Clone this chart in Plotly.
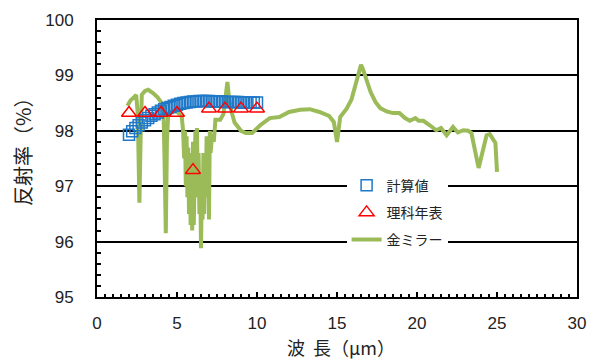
import plotly.graph_objects as go

# 計算値 (calculated)
calc_x = [2.0, 2.2, 2.4, 2.6, 2.8, 3.0, 3.2, 3.4, 3.6, 3.8, 4.0, 4.2, 4.4, 4.6, 4.8,
          5.0, 5.2, 5.4, 5.6, 5.8, 6.0, 6.2, 6.4, 6.6, 6.8, 7.0, 7.2, 7.4, 7.6, 7.8,
          8.0, 8.2, 8.4, 8.6, 8.8, 9.0, 9.2, 9.4, 9.6, 9.8, 10.0]
calc_y = [97.93, 97.99, 98.05, 98.10, 98.15, 98.19, 98.23, 98.27, 98.30, 98.33, 98.36,
          98.39, 98.41, 98.43, 98.45, 98.47, 98.49, 98.50, 98.51, 98.52, 98.53, 98.53,
          98.54, 98.54, 98.54, 98.54, 98.53, 98.53, 98.53, 98.53, 98.52, 98.52, 98.52,
          98.52, 98.52, 98.51, 98.51, 98.51, 98.51, 98.51, 98.51]

# 理科年表 (table values)
table_x = [2, 3, 4, 5, 6, 7, 8, 9, 10]
table_y = [98.32, 98.32, 98.32, 98.32, 97.29, 98.40, 98.40, 98.40, 98.40]

# 金ミラー (gold mirror measurement)
gold_x = [1.9, 2.1, 2.3, 2.45, 2.55, 2.65, 2.72, 2.8, 3.0, 3.2, 3.5, 3.8, 4.0, 4.15,
          4.22, 4.3, 4.37, 4.45, 4.7, 5.0, 5.3, 5.38, 5.45, 5.5, 5.55, 5.6, 5.65,
          5.7, 5.75, 5.8, 5.85, 5.9, 5.95, 6.0, 6.05, 6.1, 6.15, 6.2, 6.25, 6.3,
          6.35, 6.4, 6.45, 6.5, 6.55, 6.6, 6.65, 6.7, 6.75, 6.8, 6.85, 6.9, 6.95,
          7.0, 7.05, 7.1, 7.2, 7.3,
          7.4, 7.7, 7.9, 8.05, 8.15, 8.25, 8.4, 8.6, 9.0, 9.3, 9.7, 10.2, 10.8,
          11.4, 12.0, 12.7, 13.3, 13.9, 14.5, 14.8, 15.0, 15.2, 15.4, 15.6, 15.9,
          16.2, 16.5, 16.6, 16.9, 17.1, 17.4, 17.7, 18.1, 18.5, 18.9, 19.25, 19.55,
          19.9, 20.1, 20.4, 20.8, 21.2, 21.5, 21.85, 22.25, 22.55, 22.9, 23.2, 23.4,
          23.85, 24.35, 24.55, 24.9, 25.0]
gold_y = [98.45, 98.55, 98.6, 98.65, 98.3, 96.7, 97.8, 98.65, 98.72, 98.74, 98.68,
          98.6, 98.52, 98.45, 97.5, 96.15, 97.8, 98.3, 98.35, 98.35, 98.25, 98.0,
          97.5, 98.0, 97.0, 97.9, 96.8, 97.7, 96.5, 97.6, 96.3, 97.2, 96.2, 97.8,
          96.3, 97.5, 98.0, 97.2, 98.05, 96.8, 97.6, 96.5, 97.2, 95.88, 96.9, 96.4,
          97.6, 96.5, 97.4, 96.8, 97.9, 97.0, 97.8, 96.4, 98.0, 97.6, 97.95, 97.8,
          98.2, 98.2, 98.3, 98.75, 98.88, 98.6,
          98.35, 98.15, 98.0, 97.96, 97.96, 98.1, 98.23, 98.25, 98.34, 98.38, 98.39,
          98.34, 98.27, 98.16, 97.8, 98.25, 98.32, 98.4, 98.56, 98.89, 99.19, 99.13,
          98.86, 98.7, 98.52, 98.41, 98.35, 98.32, 98.32, 98.23, 98.18, 98.23, 98.18,
          98.18, 98.1, 98.01, 98.05, 97.92, 98.07, 97.97, 98.01, 98.0, 97.96, 97.33,
          97.92, 97.94, 97.78, 97.26]

x_title = "波\u00a0\u00a0長（μm）"
y_title = "反射率（%）"

FONT = "Noto Sans CJK JP"
NUM_FONT = "Liberation Sans"

fig = go.Figure()
fig.add_trace(go.Scatter(x=gold_x, y=gold_y, mode="lines", name="金ミラー",
                         line=dict(color="#9BBB59", width=4), legendgroup="c",
                         legendrank=3))
fig.add_trace(go.Scatter(x=calc_x, y=calc_y, mode="markers", name="計算値",
                         marker=dict(symbol="square-open", size=11, color="#1F78C8",
                                     line=dict(width=1.5, color="#1F78C8")),
                         legendgroup="a", legendrank=1))
fig.add_trace(go.Scatter(x=table_x, y=table_y, mode="markers", name="理科年表",
                         marker=dict(symbol="triangle-up-open", size=13, color="#FF0000",
                                     line=dict(width=1.5, color="#FF0000")),
                         legendgroup="b", legendrank=2))

# page body has an 8px margin, so the figure is 8px smaller and offset accordingly
fig.update_layout(
    width=587, height=352,
    margin=dict(l=89, r=18, t=12, b=63),
    paper_bgcolor="white", plot_bgcolor="white",
    font=dict(family=FONT, size=16, color="#222222"),
    showlegend=True,
    legend=dict(x=0.52, y=0.46, xanchor="left", yanchor="top",
                bgcolor="white", borderwidth=0, tracegroupgap=6,
                font=dict(family=FONT, size=14, color="#222222")),
    xaxis=dict(range=[0, 30], dtick=5, tick0=0, showgrid=False, zeroline=False,
               automargin=False, ticklabeloverflow="allow",
               showline=True, linecolor="black", linewidth=2, mirror=True,
               ticks="inside", ticklen=5, tickcolor="black", tickwidth=1.5,
               minor=dict(dtick=0.5, ticks="inside", ticklen=3, tickcolor="black"),
               ticklabelstandoff=10, tickfont=dict(family=NUM_FONT, size=17)),
    yaxis=dict(range=[95, 100], dtick=1, tick0=95, showgrid=True, gridcolor="black",
               gridwidth=2, zeroline=False, automargin=False, ticklabeloverflow="allow",
               showline=True, linecolor="black", linewidth=2, mirror=True,
               ticks="inside", ticklen=5, tickcolor="black", tickwidth=1.5,
               minor=dict(dtick=0.2, ticks="inside", ticklen=4, tickcolor="black",
                          showgrid=False),
               ticklabelstandoff=18, tickfont=dict(family=NUM_FONT, size=17)),
    annotations=[
        dict(text=x_title, xref="paper", yref="paper", x=0.5, y=0,
             xanchor="center", yanchor="middle", xshift=4, yshift=-50,
             showarrow=False, font=dict(family=FONT, size=18, color="#222222")),
        dict(text=y_title, xref="paper", yref="paper", x=0, y=0.5415,
             xanchor="center", yanchor="middle", xshift=-75, textangle=-90,
             showarrow=False, font=dict(family=FONT, size=20, color="#222222")),
    ],
)

fig.write_html("out.html")
